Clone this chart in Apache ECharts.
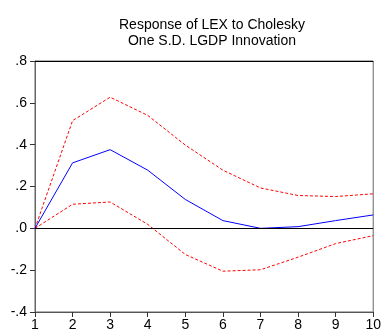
<!DOCTYPE html>
<html>
<head>
<meta charset="utf-8">
<script src="https://cdn.jsdelivr.net/npm/echarts@6/dist/echarts.min.js"></script>
<style>
    html, body { margin: 0; padding: 0; background: #fff; }
    #chart { width: 384px; height: 333px; }
</style>
</head>
<body>
<div id="chart"></div>
<script>
var periods = [1, 2, 3, 4, 5, 6, 7, 8, 9, 10];
var response = [0, 0.313, 0.376, 0.278, 0.138, 0.037, 0.000, 0.008, 0.037, 0.064];
var upperBand = [0, 0.515, 0.627, 0.540, 0.398, 0.278, 0.193, 0.157, 0.152, 0.165];
var lowerBand = [0, 0.115, 0.126, 0.019, -0.125, -0.205, -0.198, -0.138, -0.073, -0.035];

function pairs(vals) {
    var out = [];
    for (var i = 0; i < periods.length; i++) {
        out.push([periods[i], vals[i]]);
    }
    return out;
}

var myChart = echarts.init(document.getElementById('chart'));
var option = {
    animation: false,
    title: {
        text: 'Response of LEX to Cholesky\nOne S.D. LGDP Innovation',
        left: 207,
        textAlign: 'center',
        top: 12,
        textStyle: {
            fontFamily: 'Liberation Sans',
            fontSize: 14,
            fontWeight: 'normal',
            color: '#000',
            lineHeight: 16
        }
    },
    grid: {
        left: 35,
        right: 6,
        top: 61,
        bottom: 21,
        show: true,
        borderColor: '#666',
        borderWidth: 1
    },
    xAxis: {
        type: 'value',
        min: 1,
        max: 10,
        interval: 1,
        axisLine: { onZero: false, lineStyle: { color: '#555' } },
        axisTick: { show: true, length: 5, lineStyle: { color: '#333' } },
        axisLabel: {
            color: '#000',
            fontFamily: 'Liberation Sans',
            fontSize: 14,
            margin: 6
        },
        splitLine: { show: false }
    },
    yAxis: {
        type: 'value',
        min: -0.4,
        max: 0.8,
        interval: 0.2,
        axisLine: { show: true, lineStyle: { color: '#666' } },
        axisTick: { show: true, length: 5, lineStyle: { color: '#333' } },
        axisLabel: {
            color: '#000',
            fontFamily: 'Liberation Sans',
            fontSize: 14,
            margin: 8,
            formatter: function (v) {
                return v.toFixed(1).replace('0.', '.');
            }
        },
        splitLine: { show: false }
    },
    series: [
        {
            name: 'upper',
            type: 'line',
            data: pairs(upperBand),
            symbol: 'none',
            lineStyle: { color: '#ff0000', width: 1, type: [3, 2] },
            z: 3
        },
        {
            name: 'lower',
            type: 'line',
            data: pairs(lowerBand),
            symbol: 'none',
            lineStyle: { color: '#ff0000', width: 1, type: [3, 2] },
            z: 3
        },
        {
            name: 'response',
            type: 'line',
            data: pairs(response),
            symbol: 'none',
            lineStyle: { color: '#0000ff', width: 1 },
            z: 4,
            markLine: {
                silent: true,
                symbol: 'none',
                label: { show: false },
                lineStyle: { color: '#000', width: 1, type: 'solid' },
                data: [{ yAxis: 0 }, { yAxis: 0.8 }]
            }
        }
    ]
};
myChart.setOption(option);
</script>
</body>
</html>
